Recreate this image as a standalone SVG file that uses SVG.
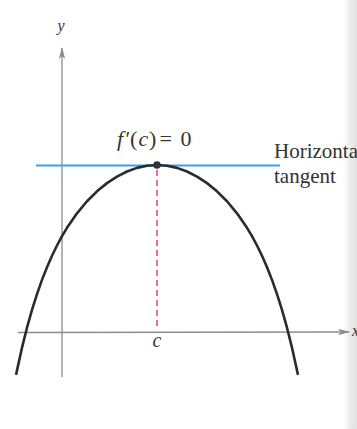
<svg xmlns="http://www.w3.org/2000/svg" width="357" height="429" viewBox="0 0 357 429">
<style>
.axis{stroke:#8c8c8c;stroke-width:1.3;fill:none}
.lbl{font-family:"Liberation Serif","Times New Roman",serif;fill:#333}
.it{font-style:italic}
</style>
<defs>
<marker id="arr" viewBox="0 0 12 8" refX="11" refY="4" markerWidth="12" markerHeight="8" markerUnits="userSpaceOnUse" orient="auto">
<path d="M0,0.8 L12,4 L0,7.2 L3,4 Z" fill="#8c8c8c"/>
</marker>
<linearGradient id="edge" x1="0" y1="0" x2="1" y2="0">
<stop offset="0" stop-color="#ffffff" stop-opacity="0"/>
<stop offset="0.6" stop-color="#ebebeb"/>
<stop offset="1" stop-color="#e2e2e2"/>
</linearGradient>
</defs>
<rect width="357" height="429" fill="#ffffff"/>
<rect x="340" y="0" width="17" height="429" fill="url(#edge)"/>
<g id="axes">
<line class="axis" x1="62" y1="377" x2="62" y2="48" marker-end="url(#arr)"/>
<line class="axis" x1="18" y1="332.5" x2="349" y2="332" marker-end="url(#arr)"/>
</g>
<g id="tangent">
<line x1="36" y1="165.5" x2="280" y2="165.5" stroke="#3fa0e6" stroke-width="2"/>
</g>
<g id="dashed">
<line x1="157" y1="170" x2="157" y2="327" stroke="#e8506e" stroke-width="1.6" stroke-dasharray="6,4"/>
</g>
<g id="curve">
<path d="M16,374.9 L22,347.67 L27,327.71 L32,309.92 L37,294.06 L42,279.88 L47,267.18 L52,255.77 L57,245.5 L62,236.2 L67,227.84 L77,213.31 L87,201.28 L97,191.32 L107,183.13 L117,176.55 L127,171.49 L137,167.88 L147,165.72 L157,165 L167,165.72 L177,167.88 L187,171.49 L197,176.55 L207,183.13 L217,191.32 L227,201.28 L237,213.31 L247,227.84 L252,236.2 L257,245.5 L262,255.77 L267,267.18 L272,279.88 L277,294.06 L282,309.92 L287,327.71 L292,347.67 L298,374.9" fill="none" stroke="#2b2b2b" stroke-width="2.6" stroke-linejoin="round"/>
</g>
<g id="point">
<circle cx="157" cy="165" r="3.8" fill="#333"/>
</g>
<g id="labels">
<text class="lbl it" x="61" y="31" font-size="16" text-anchor="middle">y</text>
<text class="lbl" y="146" font-size="22"><tspan class="it" x="117">f</tspan><tspan x="125.5">′</tspan><tspan x="130">(</tspan><tspan class="it" x="138.5">c</tspan><tspan x="149">)</tspan><tspan x="159.5">=</tspan><tspan x="180.5">0</tspan></text>
<text class="lbl" x="274" y="158" font-size="21">Horizontal</text>
<text class="lbl" x="274" y="183" font-size="21">tangent</text>
<text class="lbl it" x="157" y="347" font-size="20" text-anchor="middle">c</text>
<text class="lbl it" x="352" y="336" font-size="16">x</text>
</g>
</svg>
